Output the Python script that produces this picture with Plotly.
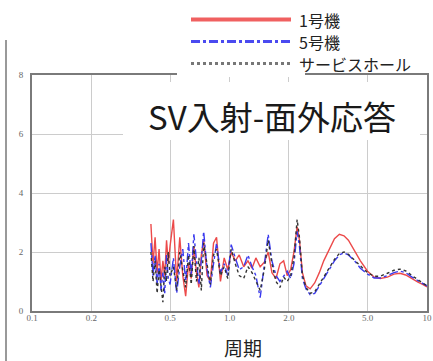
import plotly.graph_objects as go

periods = [0.40,0.41,0.42,0.43,0.44,0.45,0.46,0.47,0.48,0.49,0.50,0.52,0.54,0.56,0.58,0.60,
           0.62,0.64,0.66,0.68,0.70,0.72,0.74,0.77,0.80,0.83,0.86,0.90,0.94,0.98,1.02,1.07,
           1.12,1.18,1.24,1.30,1.36,1.43,1.50,1.57,1.64,1.72,1.80,1.88,1.96,2.04,2.12,2.20,
           2.26,2.34,2.44,2.56,2.70,2.85,3.00,3.20,3.40,3.60,3.80,4.00,4.30,4.60,5.00,5.40,
           5.80,6.30,6.80,7.30,7.80,8.40,9.00,9.50,10.0]

unit1 = [2.95,1.6,2.5,1.3,2.1,1.0,1.7,1.2,2.4,1.6,2.2,3.1,1.0,2.5,1.2,0.5,
         1.6,1.1,2.2,1.3,0.8,1.9,2.4,1.2,1.0,2.3,2.5,1.0,1.8,1.4,2.0,1.7,
         1.9,1.5,1.7,1.45,1.8,1.5,1.65,2.0,1.3,1.1,1.6,1.7,1.2,1.4,2.0,2.85,
         2.4,1.3,0.85,0.75,0.95,1.3,1.7,2.1,2.45,2.6,2.55,2.4,2.05,1.7,1.35,1.15,
         1.1,1.15,1.25,1.28,1.22,1.08,0.98,0.9,0.82]

unit5 = [2.3,1.2,1.9,0.9,1.6,0.7,1.3,0.6,1.9,1.1,0.9,1.8,0.6,1.5,2.1,1.0,
         2.3,1.2,2.6,1.6,0.9,1.7,2.7,1.4,0.8,1.6,2.3,1.3,1.6,1.2,2.25,1.8,
         1.4,1.5,1.9,1.5,1.2,0.45,1.5,2.6,1.7,1.2,1.0,1.2,1.35,1.1,1.6,2.7,
         2.2,1.1,0.75,0.55,0.6,0.85,1.1,1.4,1.7,1.9,1.97,1.9,1.7,1.45,1.25,1.12,
         1.12,1.2,1.3,1.35,1.3,1.15,1.02,0.93,0.85]

service = [2.0,1.0,1.7,0.6,1.4,0.9,0.3,1.5,1.0,2.0,1.2,1.5,0.7,2.0,1.4,0.8,
           1.9,0.9,2.2,1.0,1.8,0.7,2.3,1.6,0.9,1.9,2.1,1.2,1.5,1.1,2.1,1.6,
           1.2,1.1,1.5,1.3,1.0,0.7,1.4,2.4,1.6,1.0,0.8,1.15,1.0,1.2,1.8,3.1,
           2.5,1.2,0.8,0.6,0.65,0.9,1.15,1.45,1.75,1.95,2.0,1.92,1.72,1.5,1.3,1.18,
           1.18,1.28,1.38,1.42,1.36,1.2,1.05,0.95,0.86]

series_names = ["1号機", "5号機", "サービスホール"]
x_tickvals = [0.1, 0.2, 0.5, 1.0, 2.0, 5.0, 10.0]
x_ticktext = ["0.1", "0.2", "0.5", "1.0", "2.0", "5.0", "10"]
y_tickvals = [0, 2, 4, 6, 8]
title_text = "SV入射-面外応答"
x_title = "周期"

colors = ["#ec4a4a", "#3a3aee", "#333333"]
dashes = ["solid", "dashdot", "dot"]

fig = go.Figure()
for vals, name, c, d in zip([unit1, unit5, service], series_names, colors, dashes):
    fig.add_trace(go.Scatter(x=periods, y=vals, mode="lines", name=name,
                             line=dict(color=c, width=1.4, dash=d), showlegend=False))

W, H = 433, 361
L, R, T, B = 32, 6, 75, 50
pw, ph = W - L - R, H - T - B

def px(xp):
    return (xp - L) / pw

def py(yp):
    return (H - B - yp) / ph

shapes = []
# outer image frame line on the left
shapes.append(dict(type="line", xref="paper", yref="paper", x0=px(6), x1=px(6),
                   y0=py(40), y1=py(361), line=dict(color="#999999", width=2), layer="above"))
# white backdrop for legend
shapes.append(dict(type="rect", xref="paper", yref="paper", x0=px(177), x1=px(305),
                   y0=py(77), y1=py(0), fillcolor="white", line=dict(width=0), layer="above"))
# white backdrop for title
shapes.append(dict(type="rect", xref="paper", yref="paper", x0=px(123), x1=px(420),
                   y0=py(140), y1=py(82), fillcolor="white", line=dict(width=0), layer="above"))

legend_rows = [19.5, 41.5, 63.5]
leg_widths = [4, 3, 3]
leg_colors = ["#f06060", "#4a4af0", "#777777"]
annotations = []
for name, c, d, yy, lw in zip(series_names, leg_colors, dashes, legend_rows, leg_widths):
    shapes.append(dict(type="line", xref="paper", yref="paper", x0=px(191), x1=px(291),
                       y0=py(yy), y1=py(yy), line=dict(color=c, width=lw, dash=d), layer="above"))
    annotations.append(dict(text=name, xref="paper", yref="paper", x=px(297), y=py(yy),
                            xanchor="left", yanchor="middle", showarrow=False,
                            font=dict(family="Noto Sans CJK JP", size=16, color="#222222")))

annotations.append(dict(text=title_text, xref="paper", yref="paper", x=px(272), y=py(116),
                        xanchor="center", yanchor="middle", showarrow=False,
                        font=dict(family="Noto Sans CJK JP", size=33, color="#1a1a1a")))
annotations.append(dict(text=x_title, xref="paper", yref="paper", x=px(243), y=py(347),
                        xanchor="center", yanchor="middle", showarrow=False,
                        font=dict(family="Noto Sans CJK JP", size=19, color="#222222")))

fig.update_layout(
    width=W, height=H,
    margin=dict(l=L, r=R, t=T, b=B, autoexpand=False),
    paper_bgcolor="white", plot_bgcolor="white",
    shapes=shapes, annotations=annotations,
    showlegend=False,
)
fig.update_xaxes(type="log", range=[-1, 1], tickvals=x_tickvals, ticktext=x_ticktext,
                 showgrid=True, gridcolor="#cccccc", gridwidth=1, automargin=False,
                 showline=True, linecolor="#7a7a7a", linewidth=2, mirror=True,
                 ticks="", ticklabelstandoff=-3,
                 tickfont=dict(family="Liberation Serif", size=9, color="#666666"),
                 zeroline=False)
fig.update_yaxes(range=[0, 8], tickvals=y_tickvals,
                 showgrid=True, gridcolor="#cccccc", gridwidth=1, automargin=False,
                 showline=True, linecolor="#7a7a7a", linewidth=2, mirror=True,
                 ticks="", ticklabelstandoff=5,
                 tickfont=dict(family="Liberation Serif", size=9, color="#666666"),
                 zeroline=False)

fig.write_html("out.html", config={"displayModeBar": False},
               post_script="document.body.style.margin='0';document.body.style.overflow='hidden';")
